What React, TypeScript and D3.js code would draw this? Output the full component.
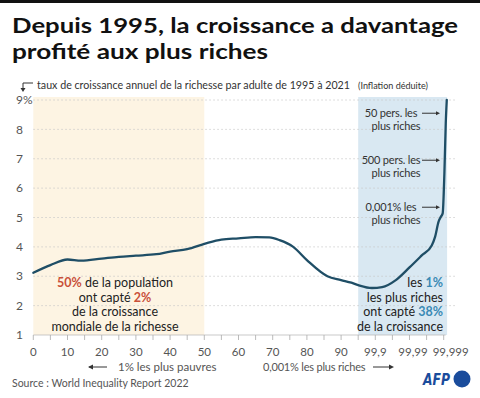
import React from 'react';
import * as d3 from 'd3';

// axis positions: 0..9 stand for percentiles 0..90, 10/11/12 for 99,9 / 99,99 / 99,999
const tickPositions = [0, 1, 2, 3, 4, 5, 6, 7, 8, 9, 10, 11, 12];
const tickLabels = ['0', '10', '20', '30', '40', '50', '60', '70', '80', '90', '99,9', '99,99', '99,999'];
const yTicks = [1, 2, 3, 4, 5, 6, 7, 8, 9];

// growth curve (position on axis, annual growth %)
const curvePos = [0, 0.5, 1.0, 1.4, 2.0, 2.5, 3.0, 3.6, 4.0, 4.5, 5.0, 5.5, 6.0, 6.5, 6.9, 7.2, 7.6, 8.0, 8.6, 9.0, 9.3, 9.5, 9.9, 10.2, 10.6, 11.0, 11.35, 11.65, 11.75, 11.85, 11.92, 11.97, 12.02, 12.06, 12.09];
const curveVal = [3.12, 3.38, 3.57, 3.53, 3.6, 3.66, 3.7, 3.75, 3.84, 3.92, 4.1, 4.25, 4.29, 4.33, 4.32, 4.23, 4.0, 3.55, 3.0, 2.87, 2.78, 2.7, 2.6, 2.63, 2.87, 3.3, 3.7, 4.05, 4.35, 4.86, 5.03, 5.14, 6.5, 8.2, 9.0];

// shaded groups
const poorBand = [0, 5];
const richBand = [9.5, 12.1];

// labels for the top of the distribution (value level of the arrow)
const topLabels = [
    {lines: ['50 pers. les', 'plus riches'], level: 8.55},
    {lines: ['500 pers. les', 'plus riches'], level: 6.95},
    {lines: ['0,001% les', 'plus riches'], level: 5.35}
];

const FONT = 'Lato, "Noto Sans", sans-serif';
const RED = '#c9503a';
const BLUE = '#3a8ab5';
const LINE = '#1f4e66';

export default function App() {
    const width = 480, height = 398;
    const x = d3.scaleLinear().domain([0, 12]).range([33.3, 443.7]);
    const y = d3.scaleLinear().domain([1, 9]).range([335, 100]);

    const points = curvePos.map((p, i) => [p, curveVal[i]] as [number, number]);
    const line = d3.line<[number, number]>()
        .x(d => x(d[0]))
        .y(d => y(d[1]))
        .curve(d3.curveMonotoneX);

    const halfTicks = d3.range(0, 12.01, 0.5);
    // the last labels sit a bit right of their tick in the original
    const labelShift = (t: number) => (t === 11 ? 3.5 : t === 12 ? 7 : 0);

    return (
        <svg width={width} height={height} style={{position: 'absolute', left: 0, top: 0, background: '#fff'}} fontFamily={FONT}>
            <rect x={0} y={0} width={width} height={3} fill="#111"/>

            <text x={12} y={33} fontSize={21.5} fontWeight={700} fill="#111" textLength={446} lengthAdjust="spacingAndGlyphs">Depuis 1995, la croissance a davantage</text>
            <text x={12} y={59} fontSize={21.5} fontWeight={700} fill="#111" textLength={256} lengthAdjust="spacingAndGlyphs">profité aux plus riches</text>

            <path d="M33,83 H23 V89" fill="none" stroke="#333" strokeWidth={1}/>
            <path d="M20.5,88 L25.5,88 L23,92 Z" fill="#333"/>
            <text x={37} y={89} fontSize={10.5} fill="#333" textLength={313} lengthAdjust="spacingAndGlyphs">taux de croissance annuel de la richesse par adulte de 1995 à 2021</text>
            <text x={358} y={89} fontSize={9} fill="#333" textLength={70} lengthAdjust="spacingAndGlyphs">(Inflation déduite)</text>

            <rect x={x(poorBand[0])} y={97} width={x(poorBand[1]) - x(poorBand[0])} height={y(1) - 97} fill="#fdf4e3"/>
            <rect x={x(richBand[0])} y={97} width={x(richBand[1]) - x(richBand[0])} height={y(1) - 97} fill="#d9e8f2"/>

            {yTicks.filter(t => t > 1).map(t => (
                <line key={t} x1={x(0)} x2={455} y1={y(t)} y2={y(t)} stroke="#c8c8c8" strokeWidth={0.8} strokeDasharray="1.5,2.5"/>
            ))}
            {yTicks.map(t => (
                <text key={t} x={16} y={y(t)} dy="0.35em" fontSize={12} fill="#555">{t === 9 ? '9%' : t}</text>
            ))}

            <line x1={x(0)} x2={x(12) + 2} y1={y(1)} y2={y(1)} stroke="#bbb" strokeWidth={0.8}/>
            {halfTicks.map(t => (
                <line key={t} x1={x(t)} x2={x(t)} y1={y(1)} y2={y(1) + 5} stroke="#aaa" strokeWidth={0.8}/>
            ))}
            {tickPositions.map((t, i) => (
                <text key={t} x={x(t) + labelShift(t)} y={356} textAnchor="middle" fontSize={11.5} fill="#555">{tickLabels[i]}</text>
            ))}

            <path d={line(points) || ''} fill="none" stroke={LINE} strokeWidth={2.3} strokeLinejoin="round" strokeLinecap="round"/>

            <g fontSize={12.5} fill="#222" textAnchor="middle">
                <text x={115} y={287}><tspan fill={RED} fontWeight={700}>50%</tspan> de la population</text>
                <text x={115} y={302}>ont capté <tspan fill={RED} fontWeight={700}>2%</tspan></text>
                <text x={115} y={316}>de la croissance</text>
                <text x={115} y={331}>mondiale de la richesse</text>
            </g>

            <g fontSize={12.5} fill="#222" textAnchor="end">
                <text x={443} y={287}>les <tspan fill={BLUE} fontWeight={700}>1%</tspan></text>
                <text x={443} y={302}>les plus riches</text>
                <text x={443} y={316}>ont capté <tspan fill={BLUE} fontWeight={700}>38%</tspan></text>
                <text x={443} y={331}>de la croissance</text>
            </g>

            {topLabels.map(l => (
                <g key={l.lines[0]}>
                    <text x={391} y={y(l.level)} dy="0.35em" textAnchor="middle" fontSize={11} letterSpacing={-0.2} fill="#333">{l.lines[0]}</text>
                    <text x={396} y={y(l.level) + 13} dy="0.35em" textAnchor="middle" fontSize={11} letterSpacing={-0.2} fill="#333">{l.lines[1]}</text>
                    <line x1={422} x2={437} y1={y(l.level)} y2={y(l.level)} stroke="#333" strokeWidth={1}/>
                    <path d={`M436,${y(l.level) - 2} L440,${y(l.level)} L436,${y(l.level) + 2} Z`} fill="#333"/>
                </g>
            ))}

            <line x1={89} x2={107} y1={367} y2={367} stroke="#333" strokeWidth={1}/>
            <path d="M88,367 L93,364.5 L93,369.5 Z" fill="#333"/>
            <text x={118} y={371} fontSize={11.5} fill="#555">1% les plus pauvres</text>
            <text x={263} y={371} fontSize={11} fill="#555" letterSpacing={-0.2}>0,001% les plus riches</text>
            <line x1={373} x2={391} y1={367} y2={367} stroke="#333" strokeWidth={1}/>
            <path d="M394,367 L389,364.5 L389,369.5 Z" fill="#333"/>

            <text x={12} y={387} fontSize={10.5} fill="#555">Source : World Inequality Report 2022</text>

            <text x={423} y={385} fontSize={15} fontWeight={900} fontStyle="italic" fill="#1a4c9c" fontFamily="'DejaVu Sans', sans-serif" textLength={27} lengthAdjust="spacingAndGlyphs">AFP</text>
            <circle cx={462} cy={379} r={8.5} fill="#1a4c9c"/>
        </svg>
    );
}
